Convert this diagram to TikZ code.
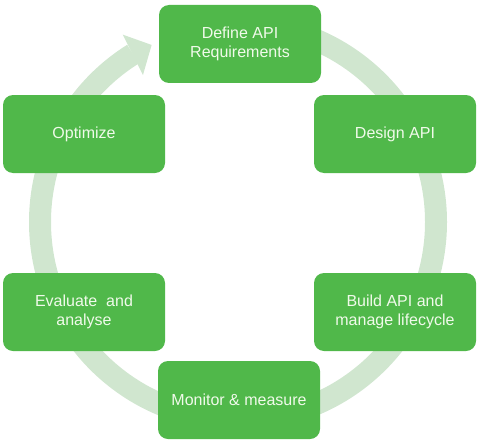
\documentclass[tikz,border=0pt]{standalone}
\usepackage{fontspec}
\setmainfont{Liberation Sans}
\usepackage{tikz}
\usetikzlibrary{calc}

\definecolor{boxgreen}{RGB}{80,184,74}
\definecolor{ringgreen}{RGB}{208,230,207}
\definecolor{textpale}{RGB}{240,250,234}

\begin{document}
\begin{tikzpicture}[x=1pt,y=1pt,
  stage/.style={fill=boxgreen,rounded corners=10pt,minimum width=162pt,minimum height=78pt,
    text=textpale,align=center,font=\fontsize{16}{19}\selectfont}]
\useasboundingbox (0,0) rectangle (478,440);
\coordinate (c) at (238,218);

% ring with arrow head
\draw[ringgreen,line width=22pt] ($(c)+(90:198)$) arc[start angle=90,end angle=-238,radius=198];
\fill[ringgreen] ($(c)+(122.9:175)$) -- ($(c)+(116:197)$) -- ($(c)+(121.6:220)$) -- cycle;

% stages
\node[stage] (req) at (240,396) {Define API\\Requirements};
\node[stage] (design) at (395,306) {Design API};
\node[stage] (build) at (395,128) {Build API and\\manage lifecycle};
\node[stage] (monitor) at (239,40) {Monitor \& measure};
\node[stage] (eval) at (84,128) {Evaluate\ \ and\\analyse};
\node[stage] (opt) at (84,306) {Optimize};

\end{tikzpicture}
\end{document}
